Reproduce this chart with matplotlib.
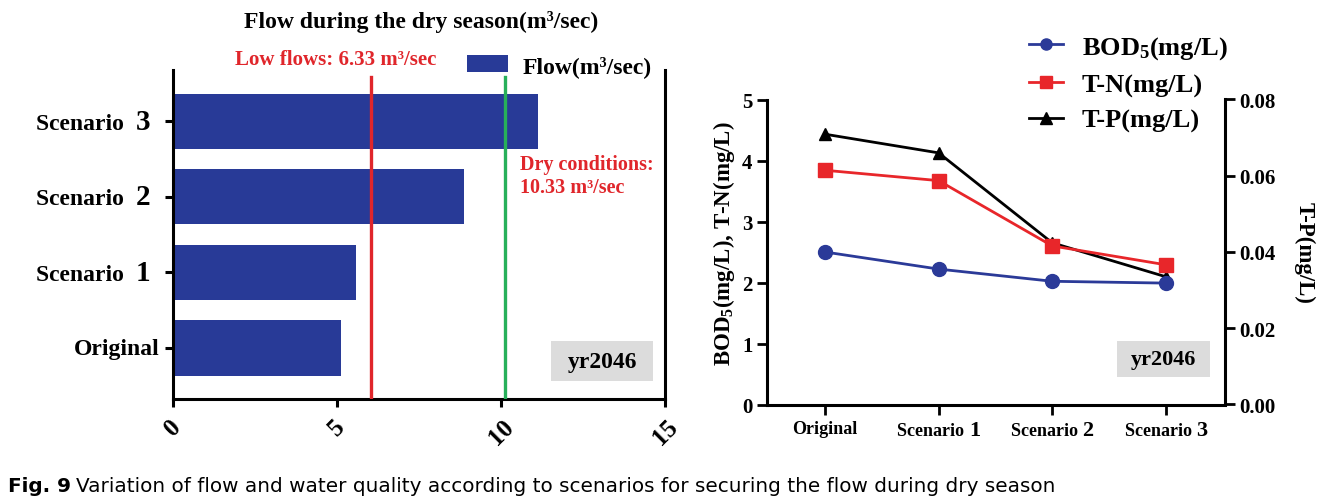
import matplotlib
matplotlib.use("Agg")
import matplotlib.pyplot as plt
from matplotlib.offsetbox import TextArea, HPacker, AnnotationBbox
from matplotlib.lines import Line2D
from matplotlib.patches import Patch, Rectangle

# ---------------- data ----------------
categories = ["Original", "Scenario 1", "Scenario 2", "Scenario 3"]
flow = [5.14, 5.58, 8.87, 11.12]
low_flow_line = 6.05
dry_cond_line = 10.14
flow_ticks = [0, 5, 10, 15]

bod5 = [2.50, 2.22, 2.02, 1.99]
tn = [3.84, 3.67, 2.60, 2.29]
tp = [0.0709, 0.0660, 0.0424, 0.0335]
left_ticks = [0, 1, 2, 3, 4, 5]
right_ticks = [0.00, 0.02, 0.04, 0.06, 0.08]

SERIF = "Liberation Serif"
plt.rcParams["font.family"] = [SERIF, "DejaVu Serif"]
plt.rcParams["font.weight"] = "bold"
plt.rcParams["mathtext.fontset"] = "custom"
plt.rcParams["mathtext.rm"] = "Liberation Serif:bold"
plt.rcParams["mathtext.bf"] = "Liberation Serif:bold"
plt.rcParams["mathtext.it"] = "Liberation Serif:bold:italic"

BAR = "#283a97"
RED = "#e0262b"
GREEN = "#27b05a"
BLUE_L = "#2b3a98"
RED_L = "#e8262a"
GRAY = "#dcdcdc"

W, H = 1335, 502
fig = plt.figure(figsize=(W / 100, H / 100), dpi=100)


def fx(px):
    return px / W


def fy(py):
    return 1 - py / H


def mixed_label(ax, text, xy, xycoords, offset, align, wsize, nsize, gap="  "):
    parts = text.split()
    kids = []
    if len(parts) == 2:
        kids.append(TextArea(parts[0] + gap, textprops=dict(size=wsize, weight="bold", family=SERIF)))
        kids.append(TextArea(parts[1], textprops=dict(size=nsize, weight="bold", family=SERIF)))
    else:
        kids.append(TextArea(text, textprops=dict(size=wsize, weight="bold", family=SERIF)))
    box = HPacker(children=kids, align="baseline", pad=0, sep=0)
    ab = AnnotationBbox(box, xy=xy, xycoords=xycoords, xybox=offset, boxcoords="offset points",
                        box_alignment=align, frameon=False, pad=0, annotation_clip=False)
    ax.add_artist(ab)


# ---------------- left panel ----------------
ax1 = fig.add_axes([fx(172.5), fy(400), fx(665) - fx(172.5), fy(71) - fy(400)])
ypos = list(range(len(categories)))
ax1.barh(ypos, flow, height=0.73, color=BAR, zorder=2)
ytop = (3.68 - (-0.675) - 0.02 * 4.355) / 4.355
ax1.axvline(low_flow_line, ymin=0, ymax=ytop, color=RED, lw=2.4, zorder=3)
ax1.axvline(dry_cond_line, ymin=0, ymax=ytop, color=GREEN, lw=2.4, zorder=3)
ax1.set_xlim(0, 15)
ax1.set_ylim(-0.675, 3.68)
ax1.set_xticks(flow_ticks)
ax1.set_xticklabels([str(t) for t in flow_ticks], rotation=45, fontsize=18, fontweight="bold")
ax1.set_yticks(ypos)
ax1.set_yticklabels([])
ax1.spines["top"].set_visible(False)
for s in ["left", "bottom", "right"]:
    ax1.spines[s].set_linewidth(2.2)
ax1.tick_params(axis="both", width=2.2, length=6)
ax1.tick_params(axis="x", pad=5)
for i, c in enumerate(categories):
    off = -9.5 if i == 0 else -16
    mixed_label(ax1, c, (0, i), ("axes fraction", "data"), (off, 0), (1, 0.5), 17, 21)

ax1.add_patch(Rectangle((0.769, 0.055), 0.207, 0.121, transform=ax1.transAxes,
                        facecolor=GRAY, edgecolor="none", zorder=4))
ax1.text(0.8725, 0.1155, "yr2046", transform=ax1.transAxes, ha="center", va="center",
         fontsize=17, fontweight="bold", zorder=5)

fig.text(fx(421), fy(22), "Flow during the dry season(m\u00b3/sec)", ha="center", va="center",
         fontsize=17, fontweight="bold")
fig.text(fx(336), fy(60), "Low flows: 6.33 m\u00b3/sec", ha="center", va="center",
         fontsize=15, fontweight="bold", color=RED)
fig.text(fx(520), fy(165), "Dry conditions:", ha="left", va="center",
         fontsize=14.5, fontweight="bold", color=RED)
fig.text(fx(520), fy(188), "10.33 m\u00b3/sec", ha="left", va="center",
         fontsize=14.5, fontweight="bold", color=RED)

fig.legend(handles=[Patch(facecolor=BAR, edgecolor="none", label="Flow(m\u00b3/sec)")],
           loc="center left", bbox_to_anchor=(fx(467), fy(67)), frameon=False,
           prop=dict(size=17, weight="bold", family=SERIF),
           handlelength=1.75, handleheight=0.7, handletextpad=0.6, borderpad=0, borderaxespad=0)

# ---------------- right panel ----------------
ax2 = fig.add_axes([fx(767), fy(405.5), fx(1225) - fx(767), fy(100.5) - fy(405.5)])
xpos = list(range(len(categories)))
ax2.plot(xpos, bod5, color=BLUE_L, lw=2.0, marker="o", ms=10, label="BOD$_{\\mathbf{5}}$(mg/L)", zorder=3)
ax2.plot(xpos, tn, color=RED_L, lw=2.0, marker="s", ms=9.5, label="T-N(mg/L)", zorder=3)
ax2.set_xlim(-0.51, 3.52)
ax2.set_ylim(0, 5)
ax2.set_yticks(left_ticks)
ax2.set_yticklabels([str(t) for t in left_ticks], fontsize=15, fontweight="bold")
ax2.set_xticks(xpos)
ax2.set_xticklabels([])
ax2.spines["top"].set_visible(False)
ax2.spines["right"].set_visible(False)
for s in ["left", "bottom"]:
    ax2.spines[s].set_linewidth(2.2)
ax2.tick_params(axis="both", width=2.0, length=7)
ax2.set_ylabel("BOD$_{\\mathbf{5}}$(mg/L), T-N(mg/L)", fontsize=16.5, fontweight="bold")
ax2.yaxis.set_label_coords(-0.066, 0.53)
for i, c in enumerate(categories):
    mixed_label(ax2, c, (i, 0), ("data", "axes fraction"), (0, -11), (0.5, 1), 13, 16, gap=" ")

ax3 = ax2.twinx()
ax3.plot(xpos, tp, color="black", lw=2.0, marker="^", ms=9, label="T-P(mg/L)", zorder=2)
ax3.set_ylim(0, 0.08)
ax3.set_yticks(right_ticks)
ax3.set_yticklabels([f"{t:.2f}" for t in right_ticks], fontsize=15, fontweight="bold")
ax3.spines["top"].set_visible(False)
ax3.spines["left"].set_visible(False)
ax3.spines["bottom"].set_visible(False)
ax3.spines["right"].set_linewidth(2.2)
ax3.tick_params(axis="y", width=2.0, length=7)
ax3.set_ylabel("T-P(mg/L)", fontsize=16.5, fontweight="bold", rotation=270, labelpad=28)
ax2.set_zorder(ax3.get_zorder() + 1)
ax2.patch.set_visible(False)

ax2.add_patch(Rectangle((0.764, 0.09), 0.203, 0.118, transform=ax2.transAxes,
                        facecolor=GRAY, edgecolor="none", zorder=1))
ax2.text(0.8655, 0.149, "yr2046", transform=ax2.transAxes, ha="center", va="center",
         fontsize=16, fontweight="bold", zorder=5)

handles = [Line2D([], [], color=BLUE_L, lw=2.0, marker="o", ms=8),
           Line2D([], [], color=RED_L, lw=2.0, marker="s", ms=8),
           Line2D([], [], color="black", lw=2.0, marker="^", ms=8)]
labels = ["BOD$_{\\mathbf{5}}$(mg/L)", "T-N(mg/L)", "T-P(mg/L)"]
fig.legend(handles, labels, loc="upper left", bbox_to_anchor=(fx(1029), fy(35)), frameon=False,
           prop=dict(size=19, weight="bold", family=SERIF),
           handlelength=1.3, handletextpad=0.7, labelspacing=0.45, borderpad=0, borderaxespad=0)

# ---------------- caption ----------------
NARROW = ["DejaVu Sans"]
t1 = fig.text(fx(8), fy(487), "Fig. 9", ha="left", va="center", fontsize=14.45,
              fontweight="bold", family=NARROW)
fig.canvas.draw()
bb = t1.get_window_extent(fig.canvas.get_renderer())
fig.text((bb.x1 + 5) / W, fy(487), "Variation of flow and water quality according to scenarios for securing the flow during dry season",
         ha="left", va="center", fontsize=14.45, fontweight="normal", family=NARROW)

fig.savefig("out.png", dpi=100)
